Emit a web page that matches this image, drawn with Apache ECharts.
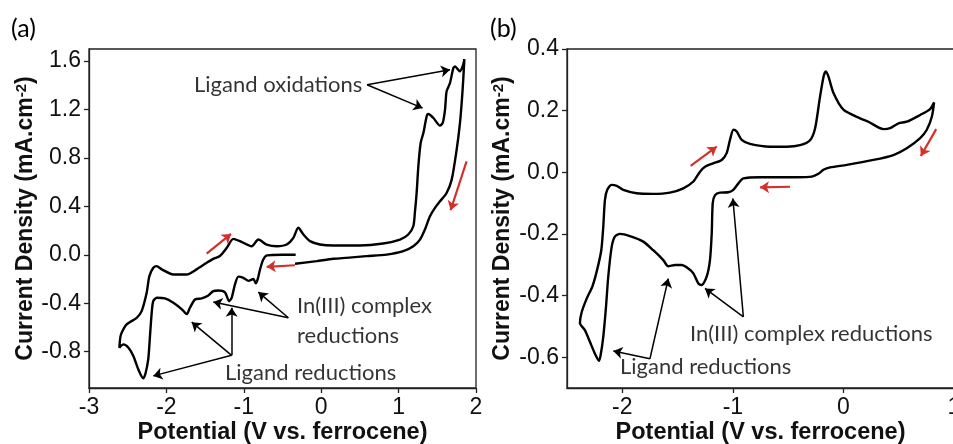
<!DOCTYPE html>
<html>
<head>
<meta charset="utf-8">
<script src="https://cdn.jsdelivr.net/npm/echarts@6/dist/echarts.min.js"></script>
<style>
html,body{margin:0;padding:0;background:#fff;}
#c{width:953px;height:444px;}
</style>
</head>
<body>
<div id="c"></div>
<script>
// ---- Panel (a) data: cyclic voltammogram (V vs Fc, mA/cm2)
const aPotential = [-0.33,-0.50,-0.70,-0.75,-0.79,-0.82,-0.845,-0.877,-0.94,-1.006,-1.07,-1.114,-1.157,-1.19,-1.243,-1.33,-1.394,-1.459,-1.544,-1.63,-1.696,-1.738,-1.80,-1.91,-2.018,-2.125,-2.17,-2.19,-2.212,-2.234,-2.27,-2.30,-2.363,-2.427,-2.49,-2.556,-2.608,-2.595,-2.578,-2.513,-2.384,-2.32,-2.255,-2.22,-2.169,-2.126,-2.06,-1.91,-1.738,-1.61,-1.48,-1.394,-1.31,-1.22,-1.135,-1.049,-0.898,-0.812,-0.705,-0.575,-0.446,-0.36,-0.296,-0.23,-0.145,-0.016,0.157,0.50,0.80,1.018,1.125,1.19,1.21,1.233,1.255,1.285,1.32,1.363,1.384,1.45,1.535,1.57,1.60,1.62,1.664,1.707,1.73,1.77,1.79,1.827,1.85,1.827,1.793,1.75,1.686,1.62,1.535,1.47,1.405,1.34,1.276,1.19,1.06,0.846,0.587,0.157,-0.058,-0.338];
const aCurrent = [0.0,0.0,-0.005,-0.04,-0.12,-0.20,-0.235,-0.20,-0.215,-0.19,-0.18,-0.245,-0.355,-0.383,-0.31,-0.295,-0.30,-0.336,-0.36,-0.369,-0.437,-0.49,-0.45,-0.396,-0.36,-0.355,-0.383,-0.48,-0.67,-0.86,-0.98,-1.02,-0.946,-0.836,-0.767,-0.74,-0.767,-0.68,-0.643,-0.575,-0.52,-0.465,-0.313,-0.176,-0.107,-0.093,-0.12,-0.162,-0.162,-0.12,-0.066,-0.033,-0.01,0.058,0.132,0.113,0.071,0.126,0.085,0.071,0.085,0.14,0.223,0.168,0.113,0.085,0.077,0.077,0.093,0.126,0.168,0.236,0.346,0.511,0.731,0.924,1.006,1.144,1.163,1.13,1.067,1.089,1.2,1.35,1.419,1.542,1.556,1.529,1.515,1.556,1.616,1.363,1.089,0.868,0.621,0.511,0.442,0.388,0.318,0.209,0.126,0.071,0.03,0.002,-0.011,-0.033,-0.052,-0.074];

// ---- Panel (b) data
const bPotential = [0.82,0.80,0.754,0.694,0.573,0.452,0.271,0.03,-0.12,-0.181,-0.226,-0.286,-0.422,-0.573,-0.754,-0.905,-0.95,-0.996,-1.041,-1.116,-1.161,-1.182,-1.191,-1.207,-1.237,-1.282,-1.312,-1.357,-1.403,-1.463,-1.523,-1.584,-1.629,-1.72,-1.81,-1.931,-2.021,-2.066,-2.096,-2.127,-2.148,-2.172,-2.196,-2.211,-2.247,-2.292,-2.337,-2.383,-2.368,-2.322,-2.27,-2.23,-2.19,-2.172,-2.157,-2.136,-2.097,-2.05,-1.991,-1.87,-1.72,-1.569,-1.448,-1.357,-1.297,-1.252,-1.177,-1.101,-1.056,-1.026,-0.995,-0.965,-0.92,-0.845,-0.664,-0.513,-0.392,-0.302,-0.256,-0.216,-0.18,-0.16,-0.136,-0.09,0.0,0.151,0.226,0.362,0.422,0.498,0.573,0.694,0.784,0.82];
const bCurrent = [0.227,0.181,0.138,0.111,0.078,0.056,0.04,0.024,0.016,0.008,-0.005,-0.014,-0.016,-0.016,-0.016,-0.02,-0.036,-0.057,-0.065,-0.066,-0.074,-0.10,-0.198,-0.285,-0.339,-0.366,-0.361,-0.328,-0.312,-0.301,-0.301,-0.305,-0.285,-0.253,-0.225,-0.207,-0.2,-0.208,-0.242,-0.339,-0.44,-0.534,-0.594,-0.612,-0.589,-0.551,-0.513,-0.489,-0.455,-0.41,-0.37,-0.32,-0.253,-0.177,-0.09,-0.057,-0.041,-0.044,-0.057,-0.068,-0.07,-0.066,-0.052,-0.03,0.002,0.018,0.029,0.04,0.062,0.105,0.138,0.132,0.105,0.092,0.083,0.083,0.088,0.104,0.143,0.235,0.31,0.327,0.311,0.257,0.203,0.175,0.164,0.14,0.143,0.159,0.164,0.186,0.205,0.227];

// ---- Tick labels
const aXTicks = [-3,-2,-1,0,1,2];
const aYTicks = [-0.8,-0.4,0.0,0.4,0.8,1.2,1.6];
const bXTicks = [-2,-1,0,1];
const bYTicks = [-0.6,-0.4,-0.2,0.0,0.2,0.4];

// ---- Annotations (data coordinates)
const aBlackArrows = [[[0.592,1.405],[1.664,1.528]],[[0.592,1.405],[1.31,1.212]],
  [[-1.157,-0.83],[-2.17,-1.0]],[[-1.157,-0.83],[-1.673,-0.556]],[[-1.157,-0.83],[-1.157,-0.437]],
  [[-0.425,-0.52],[-1.394,-0.39]],[[-0.425,-0.52],[-0.812,-0.308]]];
const aRedArrows = [[[-1.48,0.01],[-1.165,0.173]],[[-0.339,-0.086],[-0.705,-0.099]],[[1.878,0.772],[1.672,0.368]]];
const aLabels = [[-1.643,1.405,'Ligand oxidations'],[-0.313,-0.542,'In(III) complex\nreductions'],[-1.243,-0.979,'Ligand reductions']];
const bBlackArrows = [[[-1.75,-0.605],[-2.081,-0.58]],[[-1.75,-0.605],[-1.584,-0.345]],
  [[-0.905,-0.469],[-1.252,-0.377]],[[-0.905,-0.469],[-1.0,-0.085]]];
const bRedArrows = [[[-1.382,0.021],[-1.146,0.083]],[[-0.483,-0.047],[-0.754,-0.049]],[[0.839,0.14],[0.70,0.053]]];
const bLabels = [[-2.021,-0.633,'Ligand reductions'],[-1.388,-0.526,'In(III) complex reductions']];

const zip = (xs, ys) => xs.map((x,i)=>[x, ys[i]]);
const ANN_FONT = 'Lato';
const AX_FONT = 'Liberation Sans';
const RED = '#d3302b';

function arrowLines(list, color, width){
  return list.map(p => [{coord:p[0], lineStyle:{color:color,width:width,type:'solid'}}, {coord:p[1]}]);
}
function xAxisCfg(idx, min, max, ticks){
  return {type:'value', gridIndex:idx, min:min, max:max,
    axisLine:{show:true, onZero:false, lineStyle:{color:'#222', width:1.3}},
    axisTick:{show:true, inside:false, length:5, lineStyle:{color:'#222', width:1.3}, customValues:ticks},
    axisLabel:{customValues:ticks, fontSize:23, color:'#111', fontFamily:AX_FONT, margin:8, hideOverlap:false,
      alignMinLabel:'center', alignMaxLabel:'center', formatter:v=>String(Math.round(v))},
    splitLine:{show:false},
    name:'Potential (V vs. ferrocene)', nameLocation:'middle', nameGap:33, nameMoveOverlap:false,
    nameTextStyle:{fontSize:23.5, fontWeight:'bold', color:'#111', fontFamily:AX_FONT}};
}
function yAxisCfg(idx, min, max, ticks, gap){
  return {type:'value', gridIndex:idx, min:min, max:max,
    axisLine:{show:true, onZero:false, lineStyle:{color:'#222', width:1.3}},
    axisTick:{show:true, inside:false, length:5, lineStyle:{color:'#222', width:1.3}, customValues:ticks},
    axisLabel:{customValues:ticks, fontSize:23, color:'#111', fontFamily:AX_FONT, margin:8, formatter:v=>v.toFixed(1)},
    splitLine:{show:false},
    name:'{t|Current Density (mA.cm}{s|-2}{t|)}', nameLocation:'middle', nameGap:gap, nameRotate:90,
    nameTextStyle:{fontSize:23, fontWeight:'bold', color:'#111', fontFamily:AX_FONT,
      rich:{t:{fontSize:23, fontWeight:'bold', color:'#111', fontFamily:AX_FONT},
            s:{fontSize:15, fontWeight:'bold', color:'#111', fontFamily:AX_FONT, verticalAlign:'top', padding:[0,0,8,0]}}}};
}
function curveSeries(idx, data, black, red){
  return {type:'line', xAxisIndex:idx, yAxisIndex:idx, data:data, showSymbol:false, smooth:0.25,
    lineStyle:{color:'#000', width:2.4}, silent:true,
    markLine:{silent:true, symbol:['none','arrow'], symbolSize:9, label:{show:false},
      lineStyle:{color:'#000', width:1.5, type:'solid'},
      data: arrowLines(black,'#000',1.5).concat(arrowLines(red,RED,2.2))}};
}
function labelSeries(idx, labels){
  return {type:'scatter', xAxisIndex:idx, yAxisIndex:idx, symbolSize:0, silent:true,
    itemStyle:{color:'#000'},
    data: labels.map(l=>({value:[l[0],l[1]], name:l[2]})),
    label:{show:true, position:'inside', align:'left', verticalAlign:'middle', formatter:p=>p.name,
      fontSize:22, lineHeight:30, color:'#000', textBorderWidth:0, fontFamily:ANN_FONT}};
}

const chart = echarts.init(document.getElementById('c'), null, {renderer:'canvas'});
chart.setOption({
  animation:false,
  backgroundColor:'#fff',
  title:[{text:'(a)', left:6, top:11, textStyle:{fontSize:25, fontWeight:'normal', color:'#000', fontFamily:ANN_FONT}},
         {text:'(b)', left:485, top:11, textStyle:{fontSize:25, fontWeight:'normal', color:'#000', fontFamily:ANN_FONT}}],
  grid:[{left:89, top:49, width:387, height:339, show:true, borderColor:'#222', borderWidth:1.3, containLabel:false, outerBoundsMode:'none'},
        {left:567, top:49, width:387, height:339, show:true, borderColor:'#222', borderWidth:1.3, containLabel:false, outerBoundsMode:'none'}],
  xAxis:[xAxisCfg(0,-3,2,aXTicks), xAxisCfg(1,-2.5,1,bXTicks)],
  yAxis:[yAxisCfg(0,-1.1,1.7,aYTicks,48), yAxisCfg(1,-0.7,0.4,bYTicks,53)],
  series:[curveSeries(0, zip(aPotential,aCurrent), aBlackArrows, aRedArrows),
          labelSeries(0, aLabels),
          curveSeries(1, zip(bPotential,bCurrent), bBlackArrows, bRedArrows),
          labelSeries(1, bLabels)]
});
</script>
</body>
</html>
